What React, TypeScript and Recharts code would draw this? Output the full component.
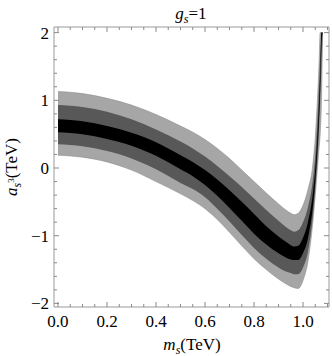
import { Area, ComposedChart, Line, XAxis, YAxis } from "recharts";

// m_s (TeV) sample points
const mS = [0, 0.1, 0.2, 0.3, 0.4, 0.5, 0.55, 0.6, 0.65, 0.7, 0.75, 0.8, 0.85, 0.9, 0.93, 0.95, 0.965, 0.98, 1.0, 1.02, 1.04, 1.05, 1.06, 1.065, 1.07, 1.075, 1.08];

// band edges, a_s3 (TeV); the spike is clipped at 2
const lightHi = [1.13, 1.1, 1.03, 0.93, 0.79, 0.62, 0.53, 0.42, 0.29, 0.14, -0.03, -0.2, -0.37, -0.53, -0.62, -0.67, -0.69, -0.67, -0.55, -0.32, 0.05, 0.45, 1.1, 1.5, 2.0, 2.0, 2.0];
const darkHi = [0.93, 0.9, 0.83, 0.72, 0.57, 0.39, 0.29, 0.17, 0.03, -0.12, -0.28, -0.45, -0.62, -0.78, -0.87, -0.92, -0.94, -0.92, -0.8, -0.58, -0.18, 0.18, 0.8, 1.2, 1.65, 2.0, 2.0];
const blackHi = [0.72, 0.69, 0.62, 0.52, 0.38, 0.19, 0.09, -0.03, -0.17, -0.33, -0.5, -0.68, -0.86, -1.01, -1.09, -1.14, -1.16, -1.15, -1.03, -0.8, -0.38, -0.02, 0.55, 0.92, 1.4, 2.0, 2.0];
const blackLo = [0.53, 0.5, 0.43, 0.33, 0.18, -0.02, -0.12, -0.25, -0.41, -0.59, -0.78, -0.97, -1.13, -1.26, -1.32, -1.35, -1.36, -1.36, -1.26, -1.04, -0.58, -0.2, 0.35, 0.7, 1.15, 1.8, 2.0];
const darkLo = [0.35, 0.32, 0.25, 0.14, -0.02, -0.22, -0.31, -0.43, -0.6, -0.79, -0.99, -1.18, -1.34, -1.47, -1.53, -1.55, -1.57, -1.57, -1.47, -1.24, -0.72, -0.32, 0.18, 0.52, 0.98, 1.5, 2.0];
const lightLo = [0.19, 0.16, 0.09, -0.03, -0.2, -0.38, -0.48, -0.6, -0.76, -0.95, -1.15, -1.34, -1.5, -1.64, -1.71, -1.75, -1.77, -1.78, -1.66, -1.38, -0.8, -0.4, 0.05, 0.28, 0.5, 0.95, 2.0];

const xTicks = [0, 0.05, 0.1, 0.15, 0.2, 0.25, 0.3, 0.35, 0.4, 0.45, 0.5, 0.55, 0.6, 0.65, 0.7, 0.75, 0.8, 0.85, 0.9, 0.95, 1.0, 1.05, 1.1];
const yTicks = [-2, -1.8, -1.6, -1.4, -1.2, -1, -0.8, -0.6, -0.4, -0.2, 0, 0.2, 0.4, 0.6, 0.8, 1, 1.2, 1.4, 1.6, 1.8, 2];

const data = mS.map((m, i) => ({
  m,
  light: [lightLo[i], lightHi[i]],
  dark: [darkLo[i], darkHi[i]],
  black: [blackLo[i], blackHi[i]],
  mid: (blackLo[i] + blackHi[i]) / 2,
}));

const W = 332;
const H = 356;
const plot = { left: 54, right: 3, top: 27, bottom: 49 };
const plotW = W - plot.left - plot.right;
const plotH = H - plot.top - plot.bottom;

const frame = "#999";
const tickColor = "#8a8a8a";
const font = "'Liberation Serif', 'Times New Roman', serif";
const xDomain = [-0.0163, 1.106];
const yDomain = [-2.053, 2.083];

const isMajorX = (v: number) => Math.abs(v * 5 - Math.round(v * 5)) < 1e-6;
const isMajorY = (v: number) => Math.abs(v - Math.round(v)) < 1e-6;

// bottom axis tick: inward mark on bottom and top edges of the frame, label below
function BottomTick({ x, y, payload }: any) {
  const v = payload.value;
  const len = isMajorX(v) ? 5 : 3;
  return (
    <g>
      <path d={`M${x},${y}V${y - len}`} stroke={tickColor} fill="none" />
      <path d={`M${x},${y - plotH}V${y - plotH + len}`} stroke={tickColor} fill="none" />
      {isMajorX(v) && (
        <text x={x} y={y + 20} textAnchor="middle" style={{ fontFamily: font, fontSize: 17 }} fill="#000">
          {v.toFixed(1)}
        </text>
      )}
    </g>
  );
}

// left axis tick: inward mark on left and right edges, label to the left
function LeftTick({ x, y, payload }: any) {
  const v = payload.value;
  const len = isMajorY(v) ? 5 : 3;
  return (
    <g>
      <path d={`M${x},${y}H${x + len}`} stroke={tickColor} fill="none" />
      <path d={`M${x + plotW},${y}H${x + plotW - len}`} stroke={tickColor} fill="none" />
      {isMajorY(v) && (
        <text x={x - 5} y={y + 6} textAnchor="end" style={{ fontFamily: font, fontSize: 17 }} fill="#000">
          {v < 0 ? "\u2212" + Math.abs(v) : String(v)}
        </text>
      )}
    </g>
  );
}

export default function App() {
  return (
    <div style={{ position: "absolute", left: 0, top: 0, width: W, height: H, background: "#fff" }}>
      <ComposedChart width={W} height={H} data={data} margin={{ top: 0, right: 0, bottom: 0, left: 0 }}>
        <XAxis
          dataKey="m"
          type="number"
          domain={xDomain}
          allowDataOverflow
          ticks={xTicks}
          interval={0}
          height={plot.bottom}
          tickSize={0}
          tickMargin={0}
          tickLine={false}
          axisLine={{ stroke: frame }}
          tick={BottomTick}
        />
        <XAxis
          xAxisId="top"
          dataKey="m"
          orientation="top"
          type="number"
          domain={xDomain}
          allowDataOverflow
          height={plot.top}
          tickLine={false}
          tick={false}
          axisLine={{ stroke: frame }}
        />
        <YAxis
          type="number"
          domain={yDomain}
          allowDataOverflow
          ticks={yTicks}
          interval={0}
          width={plot.left}
          tickSize={0}
          tickMargin={0}
          tickLine={false}
          axisLine={{ stroke: frame }}
          tick={LeftTick}
        />
        <YAxis
          yAxisId="right"
          orientation="right"
          type="number"
          domain={yDomain}
          allowDataOverflow
          width={plot.right}
          tickLine={false}
          tick={false}
          axisLine={{ stroke: frame }}
        />
        <Area type="monotone" dataKey="light" fill="#a6a6a6" fillOpacity={1} stroke="#8e8e8e" strokeWidth={0.6} dot={false} activeDot={false} isAnimationActive={false} />
        <Area type="monotone" dataKey="dark" fill="#585858" fillOpacity={1} stroke="none" dot={false} activeDot={false} isAnimationActive={false} />
        <Area type="monotone" dataKey="black" fill="#000" fillOpacity={1} stroke="none" dot={false} activeDot={false} isAnimationActive={false} />
        <Line xAxisId="top" yAxisId="right" type="monotone" dataKey="mid" stroke="none" dot={false} activeDot={false} isAnimationActive={false} />
      </ComposedChart>
      <svg width={W} height={H} style={{ position: "absolute", left: 0, top: 0, pointerEvents: "none" }}>
        <text x={191} y={18.5} textAnchor="middle" style={{ fontFamily: font, fontSize: 17 }} fill="#000">
          <tspan fontStyle="italic">g</tspan>
          <tspan fontStyle="italic" fontSize={12} dy={4}>s</tspan>
          <tspan dy={-4}>=1</tspan>
        </text>
        <text x={192} y={350} textAnchor="middle" style={{ fontFamily: font, fontSize: 17 }} fill="#000">
          <tspan fontStyle="italic">m</tspan>
          <tspan fontStyle="italic" fontSize={12} dy={4}>s</tspan>
          <tspan dy={-4}>(TeV)</tspan>
        </text>
        <text x={17} y={167} textAnchor="middle" style={{ fontFamily: font, fontSize: 17 }} fill="#000" transform="rotate(-90 17 167)">
          <tspan fontStyle="italic">a</tspan>
          <tspan fontStyle="italic" fontSize={12} dy={4}>s</tspan>
          <tspan fontSize={9} dy={-7}>3</tspan>
          <tspan dy={3}>(TeV)</tspan>
        </text>
      </svg>
    </div>
  );
}
